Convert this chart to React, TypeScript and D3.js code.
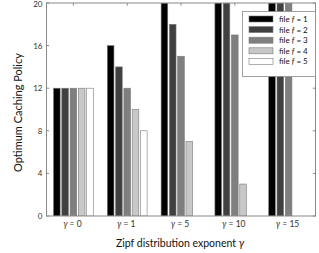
import React from "react";
import * as d3 from "d3";

const categories = ["0", "1", "5", "10", "15"];
const files = ["1", "2", "3", "4", "5"];
// values[category][file]
const gamma0 = [12, 12, 12, 12, 12];
const gamma1 = [16, 14, 12, 10, 8];
const gamma5 = [20, 18, 15, 7, 0];
const gamma10 = [20, 20, 17, 3, 0];
const gamma15 = [20, 20, 20, 0, 0];
const seriesValues = [gamma0, gamma1, gamma5, gamma10, gamma15];
const yTicks = [0, 4, 8, 12, 16, 20];
const fileColors = ["#000000", "#404040", "#7f7f7f", "#c8c8c8", "#ffffff"];

const W = 319;
const H = 253;
const L = 46.5, R = 315.5, T = 3, B = 216;
const FONT = "Lato, 'Open Sans', sans-serif";

export default function App() {
  const x = d3.scaleBand<string>().domain(categories).range([L, R]).padding(0);
  const groupW = x.bandwidth() * 0.77;
  const xi = d3.scaleBand<string>().domain(files).range([0, groupW]).paddingInner(0.2).paddingOuter(0.1);
  const y = d3.scaleLinear().domain([0, 20]).range([B, T]);
  const axisColor = "#8a8a8a";
  const textColor = "#333";

  const legendRowY = (i: number) => 19 + i * 10.6;

  return (
    <svg width={W} height={H} style={{ position: "absolute", left: 0, top: 0 }}>
      <rect x={0} y={0} width={W} height={H} fill="#fff" />
      <defs>
        <clipPath id="plotclip">
          <rect x={L} y={T} width={R - L} height={B - T} />
        </clipPath>
      </defs>
      <g clipPath="url(#plotclip)">
        {categories.map((c, ci) =>
          files.map((f, fi) => {
            const v = seriesValues[ci][fi];
            if (v <= 0) return null;
            const bx = (x(c) as number) + (x.bandwidth() - groupW) / 2 + (xi(f) as number);
            return (
              <rect
                key={c + "-" + f}
                x={bx}
                y={y(v)}
                width={xi.bandwidth()}
                height={y(0) - y(v)}
                fill={fileColors[fi]}
                stroke="#7a7a7a"
                strokeWidth={0.6}
              />
            );
          })
        )}
      </g>
      {/* axes box */}
      <rect x={L} y={T} width={R - L} height={B - T} fill="none" stroke={axisColor} strokeWidth={1} />
      {/* y ticks */}
      {yTicks.map((t) => (
        <g key={"y" + t}>
          <line x1={L} x2={L + 2.7} y1={y(t)} y2={y(t)} stroke={axisColor} />
          <line x1={R} x2={R - 2.7} y1={y(t)} y2={y(t)} stroke={axisColor} />
          <text x={L - 4} y={Math.max(y(t) + 3, 7)} fontSize={8} textAnchor="end" fill={textColor} fontFamily={FONT}>
            {t}
          </text>
        </g>
      ))}
      {/* x ticks */}
      {categories.map((c) => {
        const cx = (x(c) as number) + x.bandwidth() / 2;
        return (
          <g key={"x" + c}>
            <line x1={cx} x2={cx} y1={B} y2={B - 2.7} stroke={axisColor} />
            <line x1={cx} x2={cx} y1={T} y2={T + 2.7} stroke={axisColor} />
            <text x={cx - 1} y={227} fontSize={8.5} textAnchor="middle" fill={textColor} fontFamily={FONT}>
              <tspan fontStyle="italic">γ</tspan>
              {" = " + c}
            </text>
          </g>
        );
      })}
      {/* axis labels */}
      <text x={180} y={246.5} fontSize={10.5} textAnchor="middle" fill="#111" fontFamily={FONT}>
        Zipf distribution exponent <tspan fontStyle="italic">γ</tspan>
      </text>
      <text
        transform={`translate(21.5, ${(T + B) / 2 + 3}) rotate(-90)`}
        fontSize={11}
        textAnchor="middle"
        fill="#111"
        fontFamily={FONT}
      >
        Optimum Caching Policy
      </text>
      {/* legend */}
      <rect x={242.5} y={11.5} width={73} height={65} fill="#fff" stroke="#8a8a8a" strokeWidth={0.8} />
      {files.map((f, i) => (
        <g key={"lg" + f}>
          <rect
            x={249}
            y={legendRowY(i) - 3}
            width={24}
            height={6}
            fill={fileColors[i]}
            stroke="#7a7a7a"
            strokeWidth={0.6}
          />
          <text x={279} y={legendRowY(i) + 3} fontSize={8} fill="#111" fontFamily={FONT}>
            file <tspan fontStyle="italic">f</tspan>
            {" = " + f}
          </text>
        </g>
      ))}
    </svg>
  );
}
